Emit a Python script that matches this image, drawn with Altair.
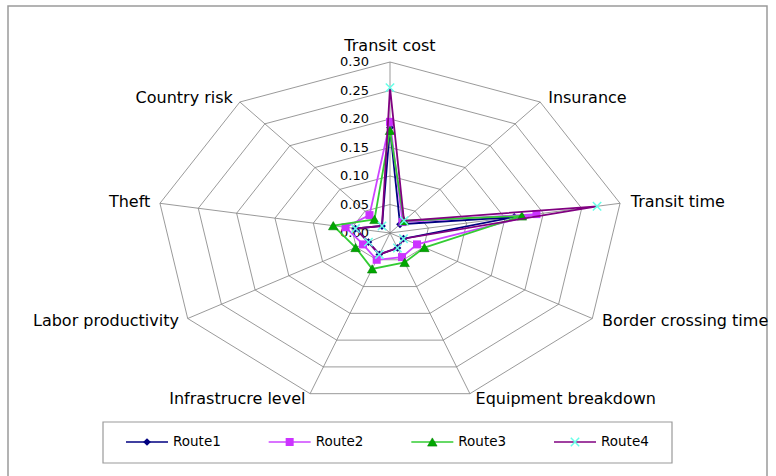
import altair as alt
import pandas as pd

# ---------------- data ----------------
axes = ["Transit cost", "Insurance", "Transit time", "Border crossing time",
        "Equipment breakdown", "Infrastrucre level", "Labor productivity",
        "Theft", "Country risk"]
routes = ["Route1", "Route2", "Route3", "Route4"]
route1 = [0.185, 0.020, 0.162, 0.020, 0.028, 0.040, 0.032, 0.045, 0.016]
route2 = [0.195, 0.025, 0.191, 0.040, 0.045, 0.050, 0.040, 0.058, 0.041]
route3 = [0.180, 0.028, 0.172, 0.051, 0.055, 0.067, 0.051, 0.074, 0.031]
route4 = [0.255, 0.028, 0.270, 0.020, 0.028, 0.040, 0.032, 0.045, 0.016]
ticks = [0.00, 0.05, 0.10, 0.15, 0.20, 0.25, 0.30]
tick_labels = ["0.00", "0.05", "0.10", "0.15", "0.20", "0.25", "0.30"]

series = dict(zip(routes, [route1, route2, route3, route4]))
line_colors = {"Route1": "#000080", "Route2": "#CC44FF", "Route3": "#33CC33", "Route4": "#800080"}
n = len(axes)
rmax = ticks[-1]

# ---------------- tables ----------------
rows = []
for r in routes:
    vals = series[r]
    for k in range(n + 1):
        rows.append({"route": r, "k": k, "value": vals[k % n]})
series_df = pd.DataFrame(rows)

grid_df = pd.DataFrame([{"ring": t, "k": k, "value": t}
                        for t in ticks[1:] for k in range(n + 1)])
spoke_df = pd.DataFrame({"k": list(range(n)), "value": [rmax] * n})
tick_df = pd.DataFrame({"value": ticks, "label": tick_labels})
label_df = pd.DataFrame({"k": list(range(n)), "axis": axes})
legend_df = pd.DataFrame({"route": routes})
one_df = pd.DataFrame({"a": [0]})

# ---------------- scales ----------------
PX_PER_UNIT_X = 233.6 / 0.30
PX_PER_UNIT_Y = 171.0 / 0.30
CX, CY, W, H = 390.0, 233.0, 776, 476
xscale = alt.Scale(domain=[-CX / PX_PER_UNIT_X, (W - CX) / PX_PER_UNIT_X], nice=False, zero=False)
yscale = alt.Scale(domain=[-(H - CY) / PX_PER_UNIT_Y, CY / PX_PER_UNIT_Y], nice=False, zero=False)


def polar(chart, rfield="value"):
    return chart.transform_calculate(
        ang=f"datum.k * 2 * PI / {n}",
    ).transform_calculate(
        px=f"datum.{rfield} * sin(datum.ang)",
        py=f"datum.{rfield} * cos(datum.ang)",
    )


X = alt.X("px:Q", scale=xscale, axis=None)
Y = alt.Y("py:Q", scale=yscale, axis=None)

grid = polar(alt.Chart(grid_df)).mark_line(color="#808080", strokeWidth=0.8).encode(
    x=X, y=Y, detail="ring:N", order="k:Q")

spokes = polar(alt.Chart(spoke_df)).transform_calculate(zero="0").mark_rule(
    color="#808080", strokeWidth=0.8).encode(
    x=alt.X("zero:Q", scale=xscale, axis=None),
    y=alt.Y("zero:Q", scale=yscale, axis=None),
    x2="px:Q", y2="py:Q")

tick_text = alt.Chart(tick_df).transform_calculate(zero="0").mark_text(
    align="right", baseline="middle", dx=-21, font="DejaVu Sans", fontSize=13, color="#000000"
).encode(x=alt.X("zero:Q", scale=xscale, axis=None),
         y=alt.Y("value:Q", scale=yscale, axis=None), text="label:N")

lab_base = polar(alt.Chart(label_df).transform_calculate(rl=f"{rmax} + 0.01"), rfield="rl")
lab_top = lab_base.transform_filter("datum.k == 0").mark_text(
    align="center", baseline="middle", dy=-10, font="DejaVu Sans", fontSize=16, color="#000000"
).encode(x=X, y=Y, text="axis:N")
lab_right = lab_base.transform_filter(f"datum.k > 0 && datum.k <= {n // 2}").mark_text(
    align="left", baseline="middle", dx=3, font="DejaVu Sans", fontSize=16, color="#000000"
).encode(x=X, y=Y, text="axis:N")
lab_left = lab_base.transform_filter(f"datum.k > {n // 2}").mark_text(
    align="right", baseline="middle", dx=-2, font="DejaVu Sans", fontSize=16, color="#000000"
).encode(x=X, y=Y, text="axis:N")

XCROSS = "M-1,-1L1,1M-1,1L1,-1"


def marker(chart, r, x, y):
    if r == "Route1":
        m = chart.mark_point(shape="diamond", filled=True, color="#000080", size=60, opacity=1)
    elif r == "Route2":
        m = chart.mark_point(shape="square", filled=True, color="#CC33FF", size=64, opacity=1)
    elif r == "Route3":
        m = chart.mark_point(shape="triangle-up", filled=True, fill="#00A800", stroke="#008000",
                             strokeWidth=0.6, size=90, opacity=1)
    else:
        m = chart.mark_point(shape=XCROSS, filled=False, stroke="#66FFE8", strokeWidth=1.5,
                             size=70, opacity=1)
    return m.encode(x=x, y=y)


series_layers = []
for r in routes:
    base = polar(alt.Chart(series_df).transform_filter(f"datum.route == '{r}'"))
    series_layers.append(base.mark_line(color=line_colors[r], strokeWidth=1.8).encode(
        x=X, y=Y, order="k:Q"))
    series_layers.append(marker(base.transform_filter(f"datum.k < {n}"), r, X, Y))

radar = alt.layer(grid, spokes, tick_text, lab_top, lab_right, lab_left, *series_layers)

# ---------------- frame & legend ----------------
frame = alt.Chart(one_df).mark_rect(fill="transparent", stroke="#9A9A9A", strokeWidth=1.5).encode(
    x=alt.value(8), x2=alt.value(767), y=alt.value(6), y2=alt.value(490))
legbox = alt.Chart(one_df).mark_rect(fill="white", stroke="#9A9A9A", strokeWidth=1.2).encode(
    x=alt.value(103), x2=alt.value(672), y=alt.value(422), y2=alt.value(463))

LX = alt.X("route:N", scale=alt.Scale(type="point", domain=routes, range=[147, 575], padding=0),
           axis=None)
LY = alt.value(442)
leg_layers = [frame, legbox]
for r in routes:
    lb = alt.Chart(legend_df).transform_filter(f"datum.route == '{r}'")
    leg_layers.append(lb.mark_rule(color=line_colors[r], strokeWidth=1.5, xOffset=-21, x2Offset=21)
                      .encode(x=LX, x2="route:N", y=LY))
    leg_layers.append(marker(lb, r, LX, LY))
leg_text = alt.Chart(legend_df).mark_text(
    align="left", baseline="middle", dx=26, font="DejaVu Sans", fontSize=13.5, color="#000000"
).encode(x=LX, y=LY, text="route:N")
legend = alt.layer(*leg_layers, leg_text)

chart = alt.layer(legend, radar).resolve_scale(x="independent", y="independent").properties(
    width=W, height=H, padding=0, autosize=alt.AutoSizeParams(type="none"), background="white"
).configure_view(stroke="transparent")

chart.save("out.html", embed_options={"renderer": "svg", "actions": False})
